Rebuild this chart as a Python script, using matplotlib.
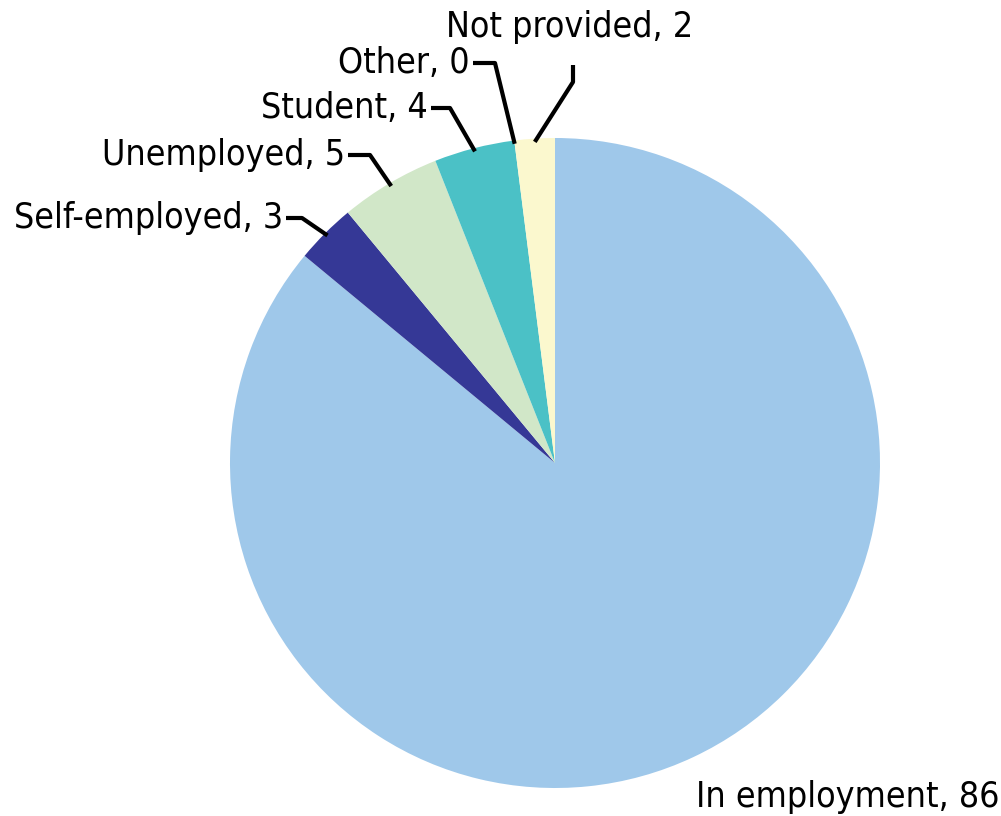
import matplotlib
matplotlib.use("Agg")
import matplotlib.pyplot as plt
import numpy as np

# data
categories = ["In employment", "Self-employed", "Unemployed", "Student", "Other", "Not provided"]
values = [86, 3, 5, 4, 0, 2]
colors = ["#9FC8EA", "#353896", "#D1E7C8", "#4BC1C6", "#B0B0B0", "#FBF8CE"]

W, H = 1001, 816
cx, cy, R = 555, 463, 325  # pie centre / radius in pixels


def px(x, y):
    # pixel (from top-left) -> data units (pie radius = 1)
    return (x - cx) / R, (cy - y) / R


fig = plt.figure(figsize=(W / 100, H / 100), dpi=100)
ax = fig.add_axes([0, 0, 1, 1])

wedges, _ = ax.pie(values, colors=colors, startangle=90, counterclock=False,
                   radius=1, center=(0, 0), wedgeprops=dict(linewidth=0))

# pie() resets the limits, so set them afterwards
ax.set_xlim(px(0, 0)[0], px(W, 0)[0])
ax.set_ylim(px(0, H)[1], px(0, 0)[1])
ax.set_aspect("equal")
ax.axis("off")

font = dict(family="DejaVu Sans", fontstretch="condensed", fontsize=25.7, color="black")

# label layout: text anchor (pixels), elbow point (pixels), alignment
layout = {
    "Self-employed": ((283, 218), [(302, 218)], "right"),
    "Unemployed": ((345, 155), [(370, 155)], "right"),
    "Student": ((428, 108), [(450, 108)], "right"),
    "Other": ((470, 63), [(495, 63)], "right"),
    "Not provided": ((570, 27), [(573, 65), (573, 82)], "center"),
}

for w, cat, val in zip(wedges, categories, values):
    text = f"{cat}, {val}"
    if cat == "In employment":
        ax.text(*px(848, 797), text, ha="center", va="center", **font)
        continue
    (tx, ty), elbows, ha = layout[cat]
    ax.text(*px(tx, ty), text, ha=ha, va="center", **font)
    mid = np.deg2rad((w.theta1 + w.theta2) / 2)
    anchor = (np.cos(mid) * 0.99, np.sin(mid) * 0.99)
    pts = [px(tx + 3, ty)] if ha == "right" else []
    pts += [px(*p) for p in elbows] + [anchor]
    xs, ys = zip(*pts)
    ax.plot(xs, ys, color="black", lw=3, solid_capstyle="butt")

fig.savefig("out.png", dpi=100)
